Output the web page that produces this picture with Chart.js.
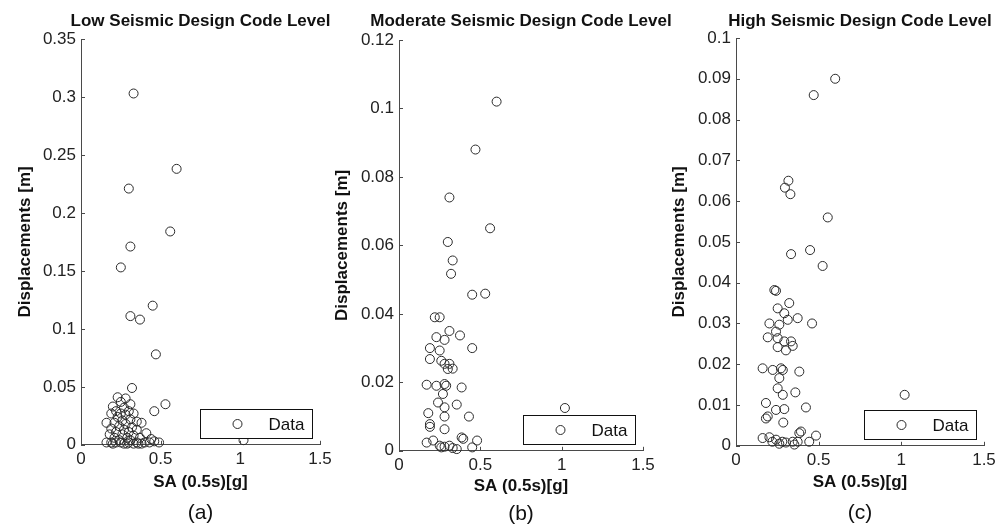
<!DOCTYPE html>
<html>
<head>
<meta charset="utf-8">
<script src="https://cdn.jsdelivr.net/npm/chart.js@4.4.0/dist/chart.umd.min.js"></script>
<style>
  body { margin: 0; background: #fff; }
  #wrap { position: relative; width: 1006px; height: 527px; }
  canvas { position: absolute; top: 0; }
</style>
</head>
<body>
<div id="wrap">
  <canvas id="low" width="340" height="527" style="left:0"></canvas>
  <canvas id="moderate" width="380" height="527" style="left:332px"></canvas>
  <canvas id="high" width="338" height="527" style="left:668px"></canvas>
</div>
<script>
// SA(0.5s) in g, displacement in m
const lowSA = [0.33, 0.60, 0.30, 0.56, 0.31, 0.25, 0.45, 0.31, 0.37, 0.47, 0.32, 0.53, 0.46, 1.02,
  0.23, 0.28, 0.25, 0.31, 0.20, 0.27, 0.22, 0.30, 0.33, 0.25, 0.19, 0.28,
  0.23, 0.31, 0.26, 0.35, 0.16, 0.21, 0.28, 0.38, 0.24, 0.32, 0.19, 0.27, 0.35, 0.22, 0.30, 0.41, 0.18, 0.26, 0.33,
  0.21, 0.29, 0.37, 0.44, 0.24, 0.31,
  0.16, 0.19, 0.22, 0.25, 0.27, 0.30, 0.33, 0.35, 0.38, 0.40, 0.43, 0.46, 0.49, 0.20, 0.29, 0.36]
const lowDisp = [0.303, 0.238, 0.221, 0.184, 0.171, 0.153, 0.120, 0.111, 0.108, 0.078, 0.049, 0.035, 0.029, 0.004,
  0.041, 0.040, 0.037, 0.035, 0.033, 0.032, 0.029, 0.029, 0.027, 0.027, 0.027, 0.026,
  0.024, 0.022, 0.021, 0.020, 0.019, 0.019, 0.018, 0.019, 0.016, 0.015, 0.014, 0.013, 0.013, 0.011, 0.011, 0.010, 0.009, 0.009, 0.008,
  0.006, 0.006, 0.006, 0.005, 0.004, 0.004,
  0.002, 0.002, 0.002, 0.002, 0.001, 0.002, 0.001, 0.002, 0.001, 0.002, 0.002, 0.003, 0.002, 0.001, 0.001, 0.001]

const modSA = [0.60, 0.47, 0.31, 0.56, 0.30, 0.33, 0.32, 0.45, 0.53,
  0.22, 0.25, 0.23, 0.28, 0.31, 0.375, 0.19, 0.25, 0.45, 0.19, 0.26, 0.28, 0.31, 0.33, 0.30,
  0.17, 0.23, 0.28, 0.29, 0.385, 0.27, 0.24, 0.355, 0.28, 0.18, 0.28, 0.43, 0.19, 0.19, 0.28,
  0.17, 0.21, 0.26, 0.28, 0.31, 0.355, 0.385, 0.395, 0.45, 0.48, 0.25, 0.33,
  1.02]
const modDisp = [0.102, 0.088, 0.074, 0.065, 0.061, 0.0556, 0.0517, 0.0456, 0.0459,
  0.039, 0.039, 0.0332, 0.0324, 0.035, 0.0337, 0.030, 0.0293, 0.030, 0.0268, 0.0263, 0.0254, 0.0254, 0.024, 0.0239,
  0.0193, 0.019, 0.0195, 0.019, 0.0185, 0.0166, 0.0141, 0.0135, 0.0127, 0.011, 0.010, 0.010, 0.0078, 0.007, 0.0063,
  0.0024, 0.003, 0.001, 0.0012, 0.0015, 0.0005, 0.0039, 0.0035, 0.001, 0.003, 0.0015, 0.0008,
  0.0125]

const highSA = [0.60, 0.47, 0.317, 0.296, 0.329, 0.555, 0.448, 0.333, 0.524,
  0.232, 0.242, 0.322, 0.252, 0.292, 0.373, 0.313, 0.46, 0.202, 0.262, 0.242, 0.192, 0.252, 0.292, 0.333, 0.343, 0.252, 0.302,
  0.161, 0.222, 0.272, 0.283, 0.383, 0.262, 0.252, 0.359, 0.283, 0.181, 0.423, 0.292, 0.242, 0.192, 0.181, 0.286,
  1.02,
  0.161, 0.202, 0.242, 0.262, 0.302, 0.343, 0.383, 0.393, 0.373, 0.443, 0.484, 0.353, 0.28, 0.22]
const highDisp = [0.090, 0.086, 0.065, 0.0633, 0.0617, 0.056, 0.048, 0.047, 0.0441,
  0.0382, 0.038, 0.035, 0.0337, 0.0325, 0.0313, 0.0309, 0.030, 0.030, 0.0297, 0.028, 0.0266, 0.0264, 0.0256, 0.0256, 0.0245, 0.0242, 0.0234,
  0.019, 0.0186, 0.019, 0.0186, 0.0182, 0.0166, 0.0141, 0.0131, 0.0125, 0.0105, 0.0094, 0.009, 0.0088, 0.0072, 0.0067, 0.0057,
  0.0125,
  0.0019, 0.0021, 0.0015, 0.0005, 0.0008, 0.001, 0.0031, 0.0035, 0.001, 0.001, 0.0025, 0.0003, 0.001, 0.001]

// axis ticks
const saTicks = [0, 0.5, 1, 1.5]
const saLabels = ['0', '0.5', '1', '1.5']
const lowTicks = [0, 0.05, 0.1, 0.15, 0.2, 0.25, 0.3, 0.35]
const lowLabels = ['0', '0.05', '0.1', '0.15', '0.2', '0.25', '0.3', '0.35']
const modTicks = [0, 0.02, 0.04, 0.06, 0.08, 0.1, 0.12]
const modLabels = ['0', '0.02', '0.04', '0.06', '0.08', '0.1', '0.12']
const highTicks = [0, 0.01, 0.02, 0.03, 0.04, 0.05, 0.06, 0.07, 0.08, 0.09, 0.1]
const highLabels = ['0', '0.01', '0.02', '0.03', '0.04', '0.05', '0.06', '0.07', '0.08', '0.09', '0.1']

const FONT = '"Liberation Sans", Arial, sans-serif'
const AXIS = '#4a4a4a'
const MARK = '#2a2a2a'

// MATLAB-style ticks pointing into the plot
const innerTicks = {
  id: 'innerTicks',
  afterDatasetsDraw(chart) {
    const { ctx, chartArea, scales: { x, y } } = chart
    ctx.save()
    ctx.strokeStyle = AXIS
    ctx.lineWidth = 1
    ctx.beginPath()
    x.ticks.forEach(t => {
      const px = Math.round(x.getPixelForValue(t.value)) + 0.5
      ctx.moveTo(px, chartArea.bottom)
      ctx.lineTo(px, chartArea.bottom - 4)
    })
    y.ticks.forEach(t => {
      const py = Math.round(y.getPixelForValue(t.value)) + 0.5
      ctx.moveTo(chartArea.left, py)
      ctx.lineTo(chartArea.left + 4, py)
    })
    ctx.stroke()
    ctx.restore()
  }
}

// panel heading centred over the axes, allowed to run wider than them
const panelTitle = {
  id: 'panelTitle',
  afterDraw(chart, args, opts) {
    const { ctx, chartArea } = chart
    ctx.save()
    ctx.fillStyle = '#111'
    ctx.font = 'bold 17px ' + FONT
    ctx.textAlign = 'center'
    ctx.textBaseline = 'middle'
    ctx.fillText(opts.text, (chartArea.left + chartArea.right) / 2, opts.y)
    ctx.restore()
  }
}

// boxed "Data" legend in the lower right corner
const dataLegend = {
  id: 'dataLegend',
  afterDatasetsDraw(chart) {
    const { ctx, chartArea } = chart
    const w = 112, h = 29
    const left = Math.round(chartArea.right - 8 - w) + 0.5
    const top = Math.round(chartArea.bottom - 7 - h) + 0.5
    ctx.save()
    ctx.fillStyle = '#fff'
    ctx.fillRect(left, top, w, h)
    ctx.strokeStyle = '#111'
    ctx.lineWidth = 1
    ctx.strokeRect(left, top, w, h)
    ctx.beginPath()
    ctx.strokeStyle = MARK
    ctx.arc(left + 37, top + h / 2, 4.5, 0, Math.PI * 2)
    ctx.stroke()
    ctx.fillStyle = '#111'
    ctx.font = '17px ' + FONT
    ctx.textAlign = 'right'
    ctx.textBaseline = 'middle'
    ctx.fillText(chart.data.datasets[0].label, left + w - 8, top + h / 2 + 1)
    ctx.restore()
  }
}

function makePanel (id, p) {
  const points = p.sa.map((v, i) => ({ x: v, y: p.disp[i] }))
  return new Chart(document.getElementById(id), {
    type: 'scatter',
    data: {
      datasets: [{
        label: 'Data',
        data: points,
        pointStyle: 'circle',
        pointRadius: 4.5,
        pointHoverRadius: 4.5,
        borderWidth: 1,
        borderColor: MARK,
        backgroundColor: 'rgba(0,0,0,0)',
        clip: false
      }]
    },
    options: {
      responsive: false,
      animation: false,
      events: [],
      layout: { padding: { left: 0, right: p.padRight, top: p.top, bottom: 0 } },
      plugins: {
        legend: { display: false },
        tooltip: { enabled: false },
        panelTitle: { text: p.title, y: 21 },
        subtitle: {
          display: true,
          fullSize: false,
          position: 'bottom',
          text: p.letter,
          color: '#111',
          font: { family: FONT, size: 21, weight: 'normal' },
          padding: { top: 0, bottom: p.letterBottom }
        }
      },
      scales: {
        x: {
          type: 'linear',
          min: 0,
          max: 1.5,
          afterBuildTicks: s => { s.ticks = saTicks.map(v => ({ value: v })) },
          afterFit: s => { s.height = p.xHeight },
          grid: { display: false, drawTicks: false },
          border: { display: true, color: AXIS, width: 1 },
          ticks: {
            padding: 4,
            color: '#222',
            font: { family: FONT, size: 17 },
            maxRotation: 0,
            callback: (v, i) => saLabels[i]
          },
          title: {
            display: true,
            text: 'SA (0.5s)[g]',
            color: '#111',
            font: { family: FONT, size: 17, weight: 'bold' },
            padding: { top: 0, bottom: p.xTitleBottom }
          }
        },
        y: {
          type: 'linear',
          min: 0,
          max: p.yMax,
          afterBuildTicks: s => { s.ticks = p.yTicks.map(v => ({ value: v })) },
          afterFit: s => { s.width = p.yWidth },
          grid: { display: false, drawTicks: false },
          border: { display: true, color: AXIS, width: 1 },
          ticks: {
            padding: 5,
            color: '#222',
            font: { family: FONT, size: 17 },
            callback: (v, i) => p.yLabels[i]
          },
          title: {
            display: true,
            text: 'Displacements [m]',
            color: '#111',
            font: { family: FONT, size: 17, weight: 'bold' },
            padding: { top: p.yTitleLeft, bottom: 0 }
          }
        }
      }
    },
    plugins: [innerTicks, dataLegend, panelTitle]
  })
}

makePanel('low', {
  title: 'Low Seismic Design Code Level', letter: '(a)',
  sa: lowSA, disp: lowDisp, yMax: 0.35, yTicks: lowTicks, yLabels: lowLabels,
  top: 39, padRight: 20, yWidth: 81, yTitleLeft: 15,
  xHeight: 56, xTitleBottom: 8, letterBottom: 1
})
makePanel('moderate', {
  title: 'Moderate Seismic Design Code Level', letter: '(b)',
  sa: modSA, disp: modDisp, yMax: 0.12, yTicks: modTicks, yLabels: modLabels,
  top: 40, padRight: 69, yWidth: 67, yTitleLeft: 0,
  xHeight: 51, xTitleBottom: 5, letterBottom: 0
})
makePanel('high', {
  title: 'High Seismic Design Code Level', letter: '(c)',
  sa: highSA, disp: highDisp, yMax: 0.1, yTicks: highTicks, yLabels: highLabels,
  top: 38, padRight: 22, yWidth: 68, yTitleLeft: 1,
  xHeight: 55, xTitleBottom: 8, letterBottom: 1
})
</script>
</body>
</html>
